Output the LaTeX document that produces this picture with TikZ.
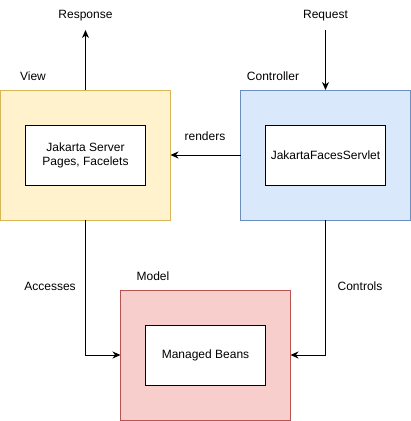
\documentclass[tikz,border=0pt]{standalone}
\usepackage{fontspec}
\setmainfont{Liberation Sans}
\usetikzlibrary{arrows.meta}
\definecolor{viewfill}{HTML}{FFF2CC}
\definecolor{viewline}{HTML}{D6B656}
\definecolor{ctrlfill}{HTML}{DAE8FC}
\definecolor{ctrlline}{HTML}{6C8EBF}
\definecolor{modelfill}{HTML}{F8CECC}
\definecolor{modelline}{HTML}{B85450}
\tikzset{
  outerbox/.style={draw, line width=1pt, minimum width=170pt, minimum height=130pt, inner sep=0pt, outer sep=0pt},
  innerbox/.style={draw=black, fill=white, line width=1pt, minimum width=120pt, minimum height=60pt, inner sep=0pt, outer sep=0pt, align=center, font=\fontsize{12pt}{14pt}\selectfont},
  lbl/.style={inner sep=0pt, font=\fontsize{12pt}{14pt}\selectfont},
  conn/.style={line width=1pt, -{Stealth[length=8pt,width=7pt,inset=2.5pt]}},
}
\begin{document}
\begin{tikzpicture}[x=1pt,y=-1pt]
\useasboundingbox (0,0) rectangle (411,421);
% outer boxes
\node[outerbox, draw=viewline, fill=viewfill] (view) at (85.5,155) {};
\node[outerbox, draw=ctrlline, fill=ctrlfill] (ctrl) at (325.5,155) {};
\node[outerbox, draw=modelline, fill=modelfill] (model) at (205.5,355) {};
% inner boxes
\node[innerbox] (jsp) at (85.5,155.5) {Jakarta Server\\Pages, Facelets};
\node[innerbox] (servlet) at (325.5,155.5) {JakartaFacesServlet};
\node[innerbox] (beans) at (205.5,355.5) {Managed Beans};
% labels
\node[lbl] (resp) at (85.5,16) {Response};
\node[lbl] (req) at (325.5,16) {Request};
\node[lbl] (viewlbl) at (33,76) {View};
\node[lbl] (ctrllbl) at (273,76) {Controller};
\node[lbl] (modellbl) at (153,276) {Model};
\node[lbl] (renders) at (205,136) {renders};
\node[lbl] (access) at (50,286) {Accesses};
\node[lbl] (controls) at (360,286) {Controls};
% connectors
\coordinate (respend) at (85.5,30);
\coordinate (reqstart) at (325.5,30);
\draw[conn] (view.north) -- (respend);
\draw[conn] (reqstart) -- (ctrl.north);
\draw[conn] (ctrl.west) -- (view.east);
\draw[conn] (view.south) |- (model.west);
\draw[conn] (ctrl.south) |- (model.east);
\end{tikzpicture}
\end{document}
